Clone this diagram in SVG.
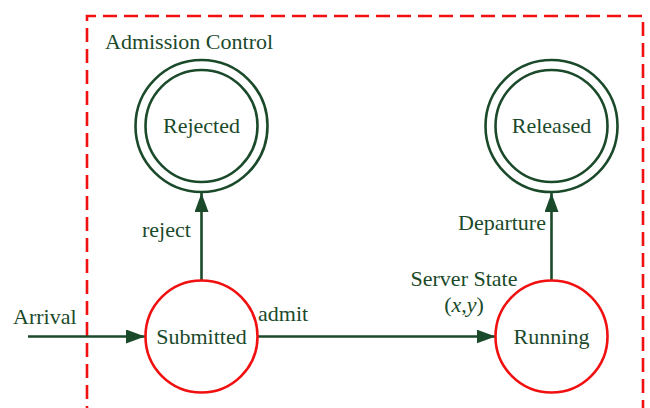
<svg xmlns="http://www.w3.org/2000/svg" width="650" height="408" viewBox="0 0 650 408">
<defs>
<marker id="arr" markerWidth="20" markerHeight="14" refX="19" refY="7" orient="auto" markerUnits="userSpaceOnUse">
<path d="M0,0 L19,7 L0,14 Z" fill="#1b4a2b"/>
</marker>
<style>
text{font-family:"Liberation Serif","Times New Roman",serif;font-size:22px;fill:#1b4a2b}
.final{fill:none;stroke:#1b4a2b;stroke-width:2.6}
.state{fill:#fff;stroke:#f01010;stroke-width:2.6}
.edge{fill:none;stroke:#1b4a2b;stroke-width:2.6}
.box{fill:none;stroke:#f01010;stroke-width:2.6;stroke-dasharray:14 7}
</style>
</defs>
<path class="box" d="M87,420 L87,16 L643,16 L643,420"/>
<text x="105" y="49">Admission Control</text>
<g id="edges">
<line class="edge" x1="28" y1="336.5" x2="145" y2="336.5" marker-end="url(#arr)"/>
<line class="edge" x1="258" y1="336.5" x2="495.5" y2="336.5" marker-end="url(#arr)"/>
<line class="edge" x1="201.5" y1="281" x2="201.5" y2="193" marker-end="url(#arr)"/>
<line class="edge" x1="551.5" y1="281" x2="551.5" y2="193" marker-end="url(#arr)"/>
<text x="13" y="324">Arrival</text>
<text x="258" y="321">admit</text>
<text x="142" y="237">reject</text>
<text x="458" y="230">Departure</text>
<text x="464" y="286" text-anchor="middle">Server State</text>
<text x="464" y="312" text-anchor="middle">(<tspan font-style="italic">x</tspan>,<tspan font-style="italic">y</tspan>)</text>
</g>
<g id="rejected">
<circle class="final" cx="201.5" cy="126" r="66"/>
<circle class="final" cx="201.5" cy="126" r="56"/>
<text x="201.5" y="133" text-anchor="middle">Rejected</text>
</g>
<g id="released">
<circle class="final" cx="551.5" cy="126" r="66"/>
<circle class="final" cx="551.5" cy="126" r="56"/>
<text x="551.5" y="133" text-anchor="middle">Released</text>
</g>
<g id="submitted">
<circle class="state" cx="201.5" cy="336.5" r="56"/>
<text x="201.5" y="343.5" text-anchor="middle">Submitted</text>
</g>
<g id="running">
<circle class="state" cx="551.5" cy="336.5" r="56"/>
<text x="551.5" y="343.5" text-anchor="middle">Running</text>
</g>
</svg>
